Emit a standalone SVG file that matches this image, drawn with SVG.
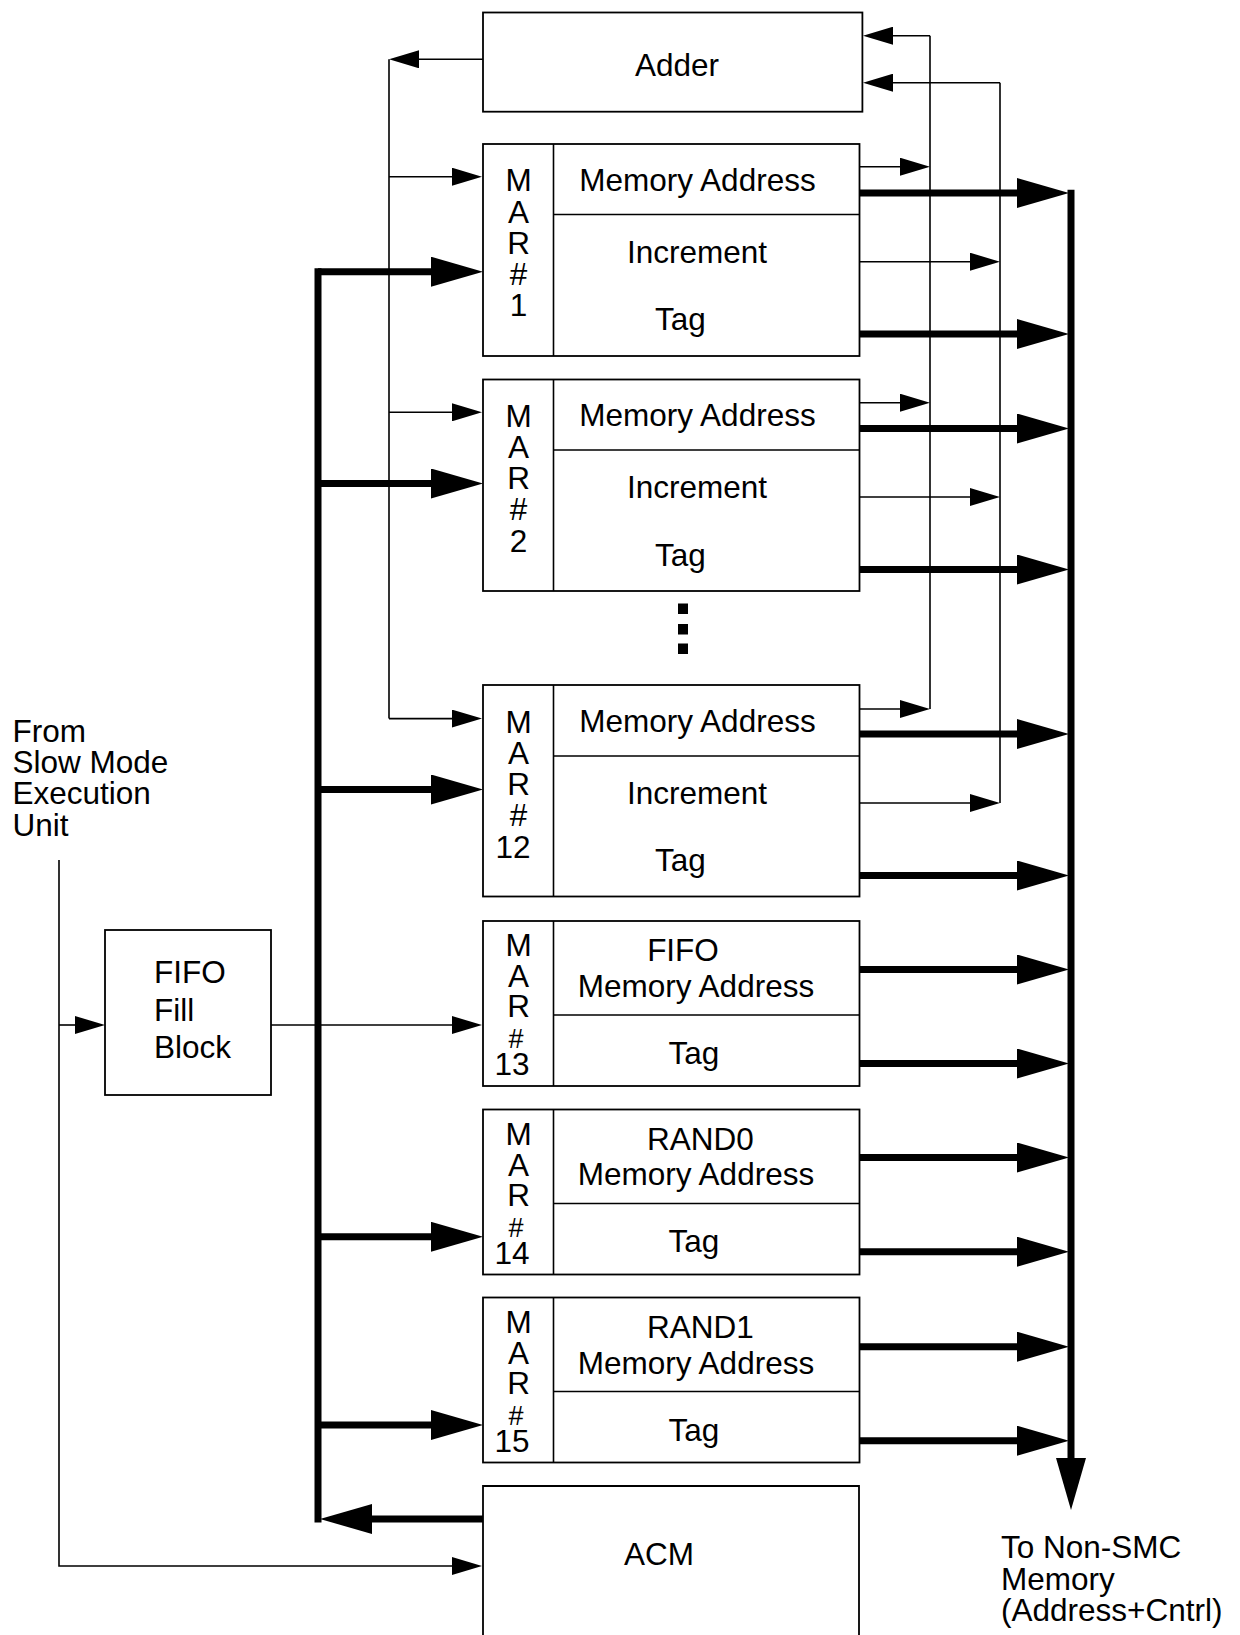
<svg xmlns="http://www.w3.org/2000/svg" width="1240" height="1635" viewBox="0 0 1240 1635">
<style>
text{font-family:"Liberation Sans",Arial,sans-serif;font-size:31.5px;fill:#000}
.c{text-anchor:middle}
.box{fill:#fff;stroke:#000;stroke-width:1.8}
.div{stroke:#000;stroke-width:1.6;fill:none}
.thin{stroke:#000;stroke-width:1.6;fill:none}
.thick{stroke:#000;stroke-width:7;fill:none}
.ta{marker-end:url(#ah)}
.tk{marker-end:url(#ahk)}
.h2{font-size:27px}
</style>
<defs>
<marker id="ah" viewBox="0 0 30 18" refX="4" refY="9" markerWidth="30" markerHeight="18" markerUnits="userSpaceOnUse" orient="auto"><path d="M0,0 L30,9 L0,18 z" fill="#000"/></marker>
<marker id="ahk" viewBox="0 0 52 30" refX="8" refY="15" markerWidth="52" markerHeight="30" markerUnits="userSpaceOnUse" orient="auto"><path d="M0,0 L52,15 L0,30 z" fill="#000"/></marker>
</defs>

<g id="connectors">
<path class="thin ta" d="M483,59.3 H415"/>
<path class="thin" d="M389,59.3 V718.6"/>
<path class="thin ta" d="M389,176.7 H456"/>
<path class="thin ta" d="M389,412.3 H456"/>
<path class="thin ta" d="M389,718.6 H456"/>
<path class="thin" d="M930,35.7 V709"/>
<path class="thin ta" d="M930,35.7 H889"/>
<path class="thin" d="M1000,82.7 V803"/>
<path class="thin ta" d="M1000,82.7 H889"/>
<path class="thin ta" d="M860,166.7 H904"/>
<path class="thin ta" d="M860,402.7 H904"/>
<path class="thin ta" d="M860,709 H904"/>
<path class="thin ta" d="M860,261.7 H974"/>
<path class="thin ta" d="M860,497 H974"/>
<path class="thin ta" d="M860,803 H974"/>
<path class="thin ta" d="M59,860 V1566 H456"/>
<path class="thin ta" d="M59,1025 H79"/>
<path class="thin ta" d="M271,1025 H456"/>
<path class="thick" d="M318,268.2 V1522.6"/>
<path class="thick tk" d="M318,271.7 H439"/>
<path class="thick tk" d="M318,483.5 H439"/>
<path class="thick tk" d="M318,789.5 H439"/>
<path class="thick tk" d="M318,1236.8 H439"/>
<path class="thick tk" d="M318,1425 H439"/>
<path class="thick tk" d="M486,1519 H364"/>
<path class="thick tk" d="M1071,189.8 V1466"/>
<path class="thick tk" d="M856,193 H1025"/>
<path class="thick tk" d="M856,334 H1025"/>
<path class="thick tk" d="M856,428.5 H1025"/>
<path class="thick tk" d="M856,569.5 H1025"/>
<path class="thick tk" d="M856,734 H1025"/>
<path class="thick tk" d="M856,875.5 H1025"/>
<path class="thick tk" d="M856,969.5 H1025"/>
<path class="thick tk" d="M856,1063.5 H1025"/>
<path class="thick tk" d="M856,1157.5 H1025"/>
<path class="thick tk" d="M856,1251.7 H1025"/>
<path class="thick tk" d="M856,1346.7 H1025"/>
<path class="thick tk" d="M856,1440.7 H1025"/>
</g>

<g id="adder">
<rect class="box" x="483" y="12.5" width="379.4" height="99.2"/>
<text class="c" x="677" y="75.7">Adder</text>
</g>

<g id="mar1">
<rect class="box" x="483" y="144" width="376.5" height="212"/>
<path class="div" d="M553.5,144 V356 M553.5,214.5 H859.5"/>
<text class="c" x="518.5" y="191">M<tspan x="518.5" dy="31.5">A</tspan><tspan x="518.5" dy="31">R</tspan><tspan x="518.5" dy="31">#</tspan><tspan x="518.5" dy="31.5">1</tspan></text>
<text class="c" x="697.5" y="190.5">Memory Address</text>
<text class="c" x="697" y="262.5">Increment</text>
<text class="c" x="680.5" y="330">Tag</text>
</g>

<g id="mar2">
<rect class="box" x="483" y="379.5" width="376.5" height="211.5"/>
<path class="div" d="M553.5,379.5 V591 M553.5,450 H859.5"/>
<text class="c" x="518.5" y="426.5">M<tspan x="518.5" dy="31.5">A</tspan><tspan x="518.5" dy="31">R</tspan><tspan x="518.5" dy="31">#</tspan><tspan x="518.5" dy="31.5">2</tspan></text>
<text class="c" x="697.5" y="426">Memory Address</text>
<text class="c" x="697" y="497.5">Increment</text>
<text class="c" x="680.5" y="565.5">Tag</text>
</g>

<g id="ellipsis">
<rect x="678" y="603.5" width="10" height="10.5" fill="#000"/>
<rect x="678" y="624" width="10" height="10.5" fill="#000"/>
<rect x="678" y="643.5" width="10" height="10.5" fill="#000"/>
</g>

<g id="mar12">
<rect class="box" x="483" y="685" width="376.5" height="211.5"/>
<path class="div" d="M553.5,685 V896.5 M553.5,756 H859.5"/>
<text class="c" x="518.5" y="732.5">M<tspan x="518.5" dy="31.5">A</tspan><tspan x="518.5" dy="31">R</tspan><tspan x="518.5" dy="31">#</tspan><tspan x="513" dy="31.5">12</tspan></text>
<text class="c" x="697.5" y="732">Memory Address</text>
<text class="c" x="697" y="803.5">Increment</text>
<text class="c" x="680.5" y="871">Tag</text>
</g>

<g id="mar13">
<rect class="box" x="483" y="921" width="376.5" height="165"/>
<path class="div" d="M553.5,921 V1086 M553.5,1015 H859.5"/>
<text class="c" x="518.5" y="956">M<tspan x="518.5" dy="31">A</tspan><tspan x="518.5" dy="30">R</tspan><tspan class="h2" x="516" dy="31">#</tspan><tspan x="512" dy="27">13</tspan></text>
<text class="c" x="683" y="961">FIFO</text>
<text class="c" x="696" y="997">Memory Address</text>
<text class="c" x="694" y="1063.5">Tag</text>
</g>

<g id="mar14">
<rect class="box" x="483" y="1109.5" width="376.5" height="165"/>
<path class="div" d="M553.5,1109.5 V1274.5 M553.5,1203.5 H859.5"/>
<text class="c" x="518.5" y="1144.5">M<tspan x="518.5" dy="31">A</tspan><tspan x="518.5" dy="30">R</tspan><tspan class="h2" x="516" dy="31">#</tspan><tspan x="512" dy="27">14</tspan></text>
<text class="c" x="700.5" y="1149.5">RAND0</text>
<text class="c" x="696" y="1185">Memory Address</text>
<text class="c" x="694" y="1252">Tag</text>
</g>

<g id="mar15">
<rect class="box" x="483" y="1297.5" width="376.5" height="165"/>
<path class="div" d="M553.5,1297.5 V1462.5 M553.5,1391.5 H859.5"/>
<text class="c" x="518.5" y="1332.5">M<tspan x="518.5" dy="31">A</tspan><tspan x="518.5" dy="30">R</tspan><tspan class="h2" x="516" dy="31">#</tspan><tspan x="512" dy="27">15</tspan></text>
<text class="c" x="700.5" y="1338">RAND1</text>
<text class="c" x="696" y="1373.5">Memory Address</text>
<text class="c" x="694" y="1440.5">Tag</text>
</g>

<g id="acm">
<path class="box" d="M483,1645 V1486 H859 V1645"/>
<text class="c" x="659" y="1565">ACM</text>
</g>

<g id="fifo-fill-block">
<rect class="box" x="105" y="930" width="166" height="165"/>
<text x="154" y="983">FIFO</text>
<text x="154" y="1020.7">Fill</text>
<text x="154" y="1057.7">Block</text>
</g>

<g id="slow-mode-label">
<text x="12.5" y="741.7">From</text>
<text x="12.5" y="773">Slow Mode</text>
<text x="12.5" y="804">Execution</text>
<text x="12.5" y="836">Unit</text>
</g>

<g id="non-smc-label">
<text x="1001" y="1558">To Non-SMC</text>
<text x="1001" y="1589.5">Memory</text>
<text x="1001" y="1621">(Address+Cntrl)</text>
</g>
</svg>
